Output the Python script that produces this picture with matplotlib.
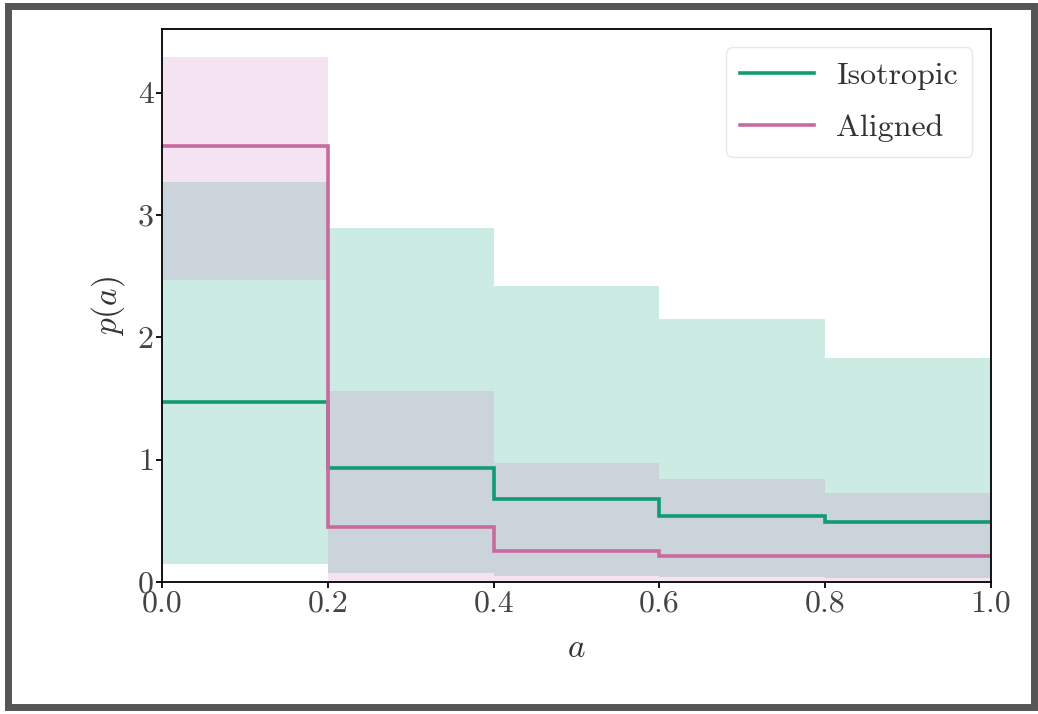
import numpy as np
import matplotlib
matplotlib.use("Agg")
import matplotlib.pyplot as plt
from matplotlib.patches import Rectangle

# bin edges in a
edges = [0.0, 0.2, 0.4, 0.6, 0.8, 1.0]

# isotropic: median and band
iso_med = [1.47, 0.93, 0.68, 0.54, 0.49]
iso_lo = [0.15, 0.07, 0.05, 0.04, 0.03]
iso_hi = [3.27, 2.89, 2.42, 2.15, 1.83]

# aligned: median and band
ali_med = [3.56, 0.45, 0.25, 0.21, 0.21]
ali_lo = [2.47, 0.01, 0.01, 0.01, 0.01]
ali_hi = [4.29, 1.56, 0.97, 0.84, 0.73]

green = "#029e73"
pink = "#cc78bc"

plt.rcParams["font.family"] = "serif"
plt.rcParams["font.serif"] = ["cmr10", "DejaVu Serif"]
plt.rcParams["mathtext.fontset"] = "cm"
plt.rcParams["axes.formatter.use_mathtext"] = True

fig = plt.figure(figsize=(10.38, 7.14), dpi=100)
ax = fig.add_axes([0.1561, 0.1849, 0.7986, 0.7745])

ax.stairs(iso_hi, edges, baseline=iso_lo, fill=True, color=green, alpha=0.2, lw=0)
ax.stairs(ali_hi, edges, baseline=ali_lo, fill=True, color=pink, alpha=0.2, lw=0)
ax.stairs(iso_med, edges, baseline=None, color="#129a72", lw=2.6, label="Isotropic")
ax.stairs(ali_med, edges, baseline=None, color="#c86a9e", lw=2.6, label="Aligned")

ax.set_xlim(0, 1)
ax.set_ylim(0, 4.52)
ax.set_xticks([0.0, 0.2, 0.4, 0.6, 0.8, 1.0])
ax.set_xticklabels(["0.0", "0.2", "0.4", "0.6", "0.8", "1.0"])
ax.set_yticks([0, 1, 2, 3, 4])
ax.set_yticklabels(["0", "1", "2", "3", "4"])
ax.tick_params(direction="out", length=4, width=1.3, labelsize=23,
               labelcolor="#444444", pad=2)
for s in ax.spines.values():
    s.set_linewidth(1.3)

ax.set_xlabel("$a$", fontsize=24, labelpad=12, color="#333333")
ax.set_ylabel("$p(a)$", fontsize=24, labelpad=8, color="#333333")

leg = ax.legend(loc="upper right", fontsize=23, handlelength=2.3,
                frameon=True, fancybox=True, borderpad=0.45, labelspacing=0.75,
                handletextpad=0.7, borderaxespad=0,
                bbox_to_anchor=(0.9775, 0.967))
leg.get_frame().set_edgecolor("#e2e2e2")
leg.get_frame().set_linewidth(1.0)
for t in leg.get_texts():
    t.set_color("#333333")

# screenshot frame around the figure
fig.patches.append(Rectangle((8 / 1038, 7 / 714), 1026 / 1038, 701 / 714,
                             transform=fig.transFigure, fill=False,
                             edgecolor="#555555", lw=5))

fig.savefig("out.png", dpi=100)
